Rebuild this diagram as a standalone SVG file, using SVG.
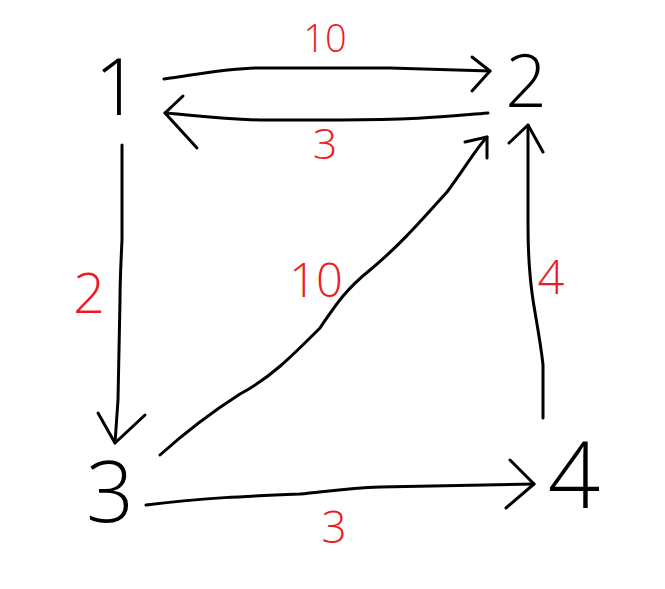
<svg xmlns="http://www.w3.org/2000/svg" width="665" height="589" viewBox="0 0 665 589">
<style>
.e{fill:none;stroke:#000;stroke-width:3;stroke-linecap:round;stroke-linejoin:round}
.n{font-family:"Open Sans","Liberation Sans",sans-serif;font-weight:300;fill:#000;text-anchor:middle}
.l{font-family:"Open Sans","Liberation Sans",sans-serif;font-weight:300;fill:#ED1C24;text-anchor:middle}
</style>
<rect width="665" height="589" fill="#fff"/>
<g id="connectors">
<g id="e1-2"><path class="e" d="M164,79 C200,74 230,68 260,68 L390,68 C430,69 460,70 490,71"/><path class="e" d="M472,57 L490,71 L472,91"/></g>
<g id="e2-1"><path class="e" d="M488,113 C450,116 420,120 340,120 L260,120 C220,119 190,115 165,113"/><path class="e" d="M183,96 L165,113 L197,148"/></g>
<g id="e1-3"><path class="e" d="M122,145 L122,240 C121,260 120,280 120,300 L118,400 L115,443"/><path class="e" d="M98,413 L115,443 L145,415"/></g>
<g id="e3-2"><path class="e" d="M160,455 C190,428 215,410 240,394 C270,378 290,358 320,328 C335,306 345,290 370,270 C400,245 420,222 447,192 C465,168 475,150 487,137"/><path class="e" d="M465,142 L487,137 L487,158"/></g>
<g id="e4-2"><path class="e" d="M543,418 L543,365 C541,345 537,325 533,300 C530,280 528,250 528,225 L528,125"/><path class="e" d="M509,143 L528,125 L543,152"/></g>
<g id="e3-4"><path class="e" d="M146,505 C200,498 250,496 300,494 C330,491 350,488 380,487 L534,484"/><path class="e" d="M510,460 L534,484 L506,508"/></g>
</g>
<g id="node1"><text class="n" x="117" y="115" font-size="80">1</text></g>
<g id="node2"><text class="n" x="526" y="107" font-size="73">2</text></g>
<g id="node3"><text class="n" x="110" y="522" font-size="84">3</text></g>
<g id="node4"><text class="n" x="574" y="508" font-size="92">4</text></g>
<g id="labels">
<text class="l" x="325" y="52" font-size="38">10</text>
<text class="l" x="325" y="159" font-size="43">3</text>
<text class="l" x="89" y="313" font-size="56">2</text>
<text class="l" x="316" y="297" font-size="47">10</text>
<text class="l" x="551" y="294" font-size="47">4</text>
<text class="l" x="334" y="543" font-size="44">3</text>
</g>
</svg>
